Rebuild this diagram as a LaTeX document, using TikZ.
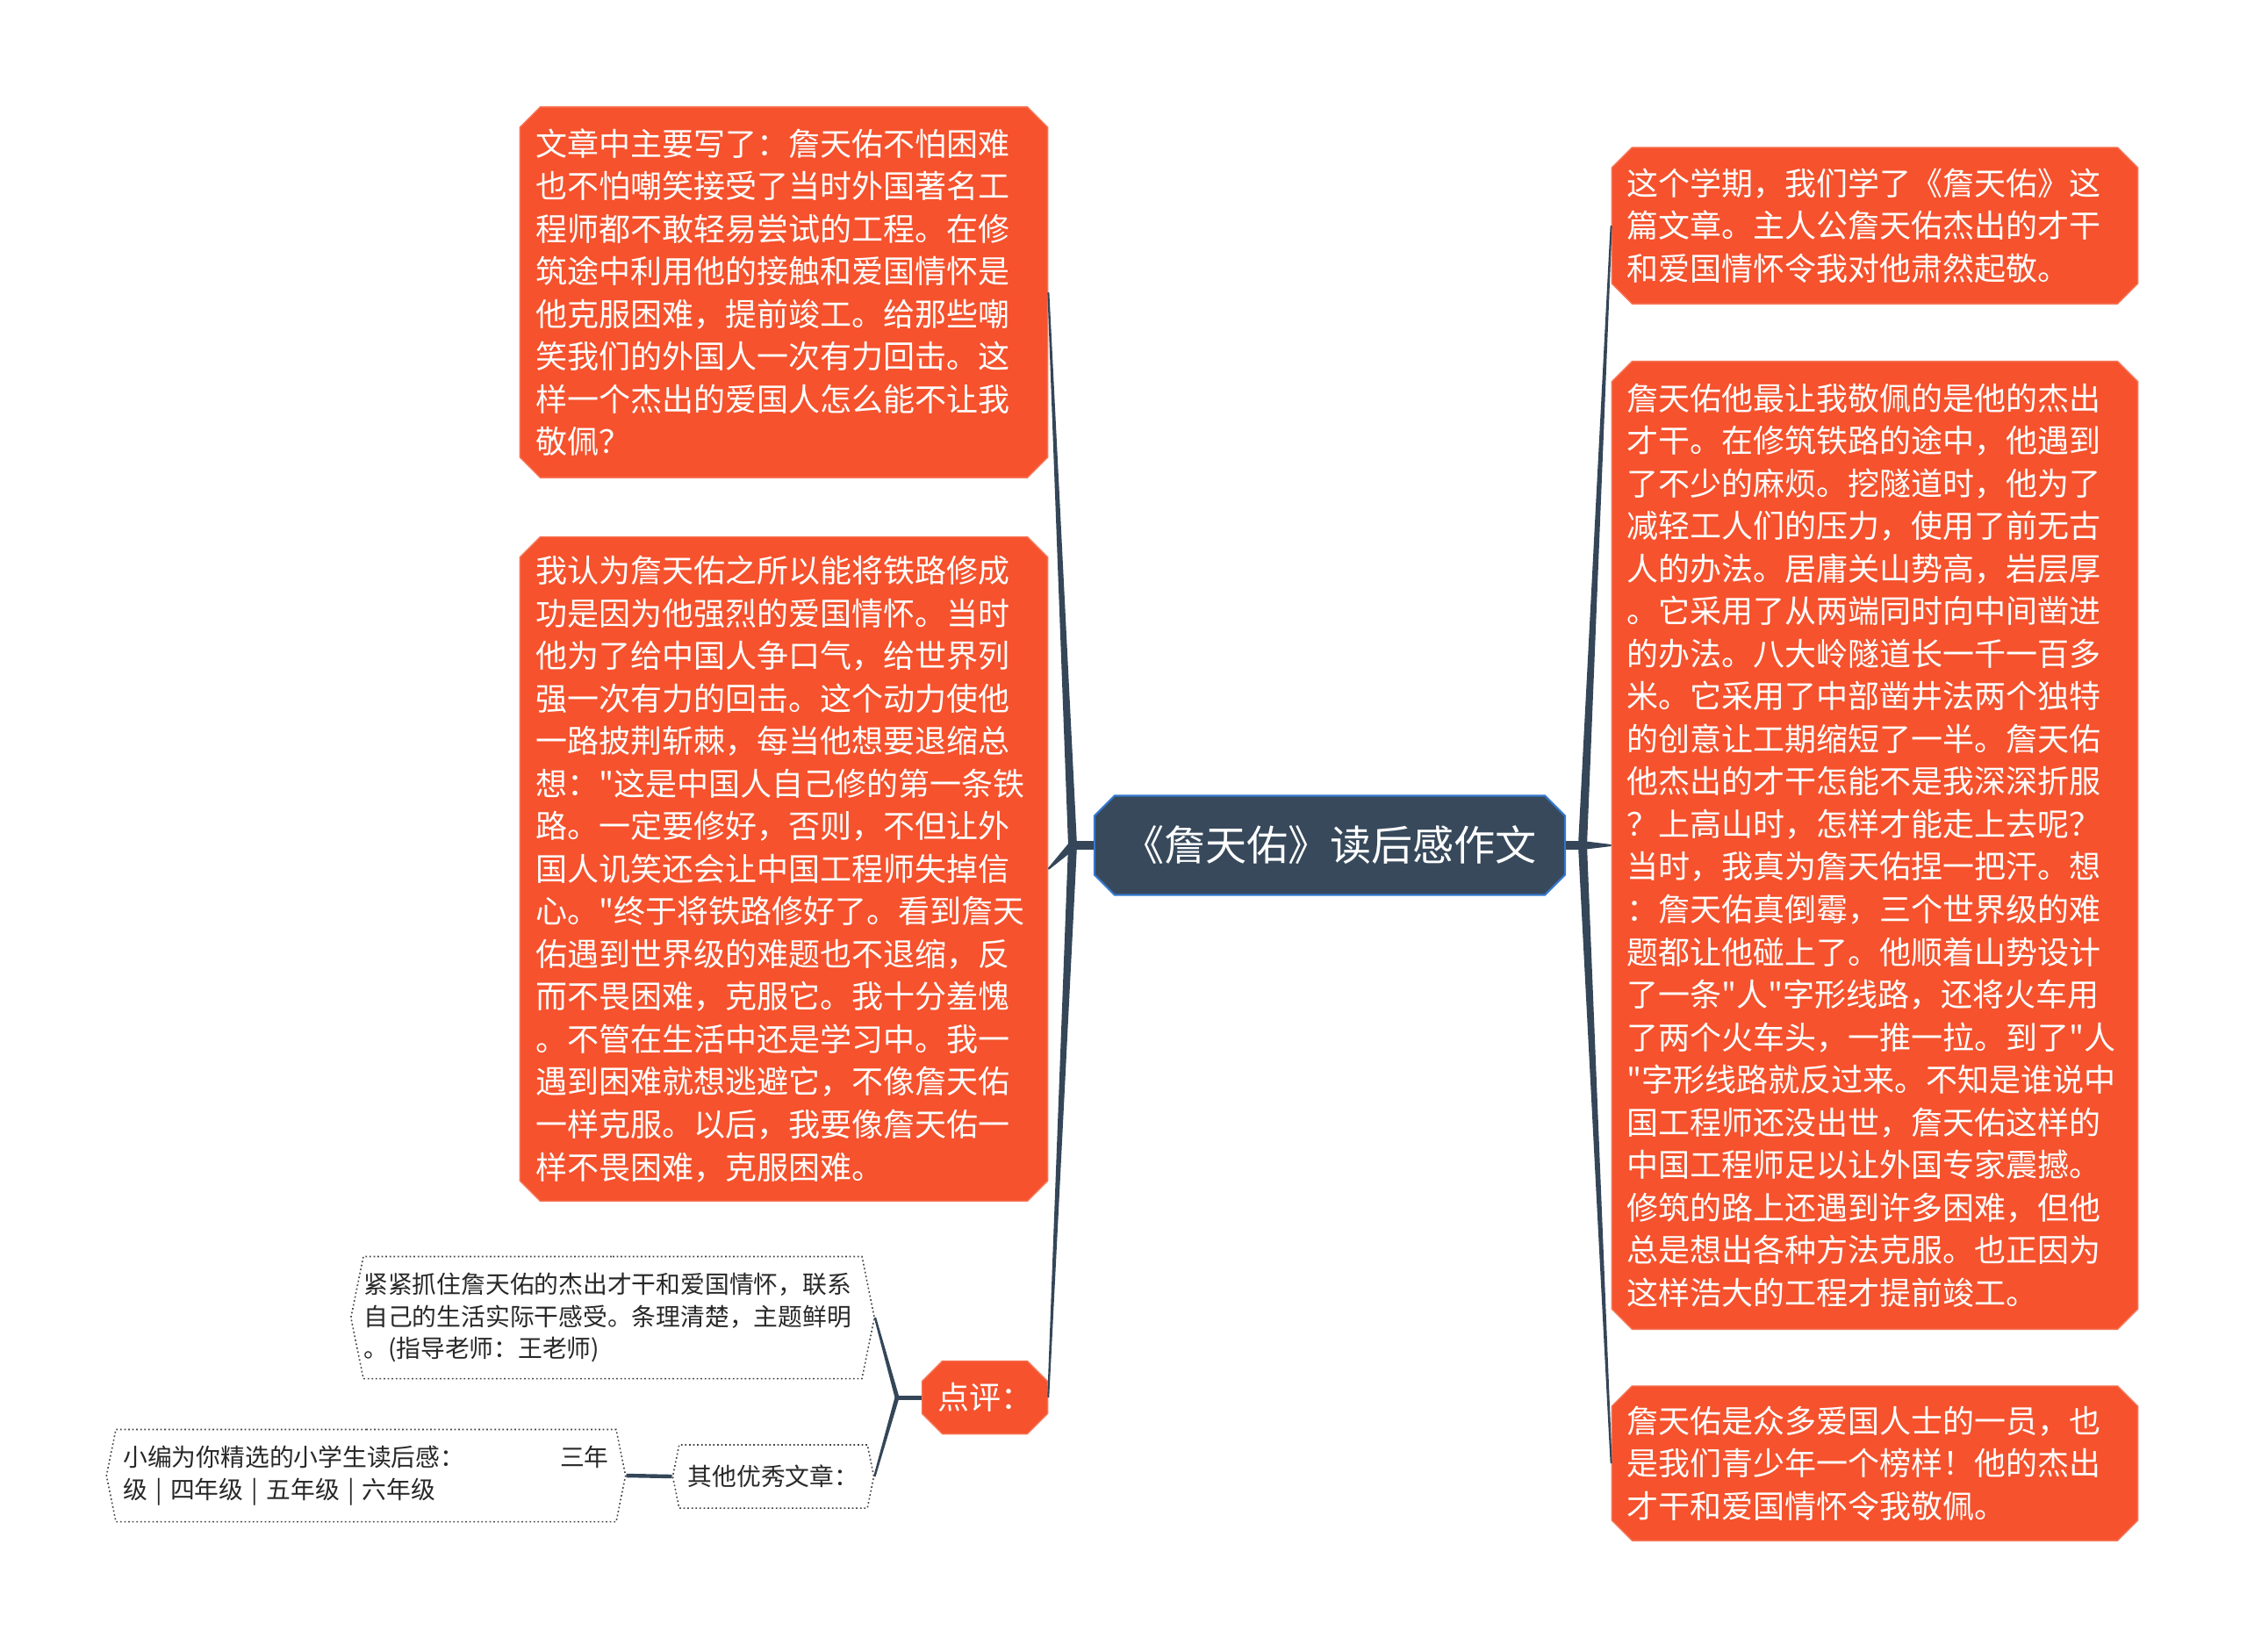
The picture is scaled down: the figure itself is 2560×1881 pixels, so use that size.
\documentclass[tikz,border=0pt]{standalone}
\usepackage{fontspec}
\newfontfamily\cjkfont{Noto Sans CJK SC}
\usepackage{tikz}
\usetikzlibrary{shapes,calc}
\usepackage{xcolor}
\definecolor{mmorange}{RGB}{245,82,45}
\definecolor{mmnavy}{RGB}{55,73,91}
\definecolor{mmblue}{RGB}{52,120,205}
\definecolor{mmline}{RGB}{52,70,88}
\definecolor{mmgray}{RGB}{70,70,70}
\definecolor{mmtext}{RGB}{40,40,40}
\newcommand{\mmbody}{\cjkfont\fontsize{10.24pt}{13.8pt}\selectfont}
\newcommand{\mmsmall}{\cjkfont\fontsize{7.9pt}{10.3pt}\selectfont}
\newcommand{\mmtitle}{\cjkfont\fontsize{13.4pt}{16pt}\selectfont}
% tapered branch: from, to, half width at start, half width at end
\newcommand{\branch}[4]{\fill[mmline] ($(#1)!#3!90:(#2)$) -- ($(#2)!#4!-90:(#1)$) -- ($(#2)!#4!90:(#1)$) -- ($(#1)!#3!-90:(#2)$) -- cycle;}
\tikzstyle{topic} = [chamfered rectangle, chamfered rectangle xsep=0.13cm, fill=mmorange, draw=mmorange!80!white, line width=0.4pt, text=white, align=left, inner xsep=0.04cm, inner ysep=0pt, font=\mmbody, text width=5.65cm]
\tikzstyle{root} = [chamfered rectangle, chamfered rectangle xsep=0.13cm, fill=mmnavy, draw=mmblue, line width=0.6pt, text=white, font=\mmtitle, minimum width=5.36cm, minimum height=1.13cm]
\tikzstyle{note} = [signal, signal to=east and west, signal pointer angle=157, draw=mmgray, dash pattern=on 0.5pt off 0.8pt, line width=0.45pt, fill=white, text=mmtext, font=\mmsmall, align=left, inner xsep=0pt, inner ysep=0pt]

\begin{document}
\begin{tikzpicture}[x=0.01cm, y=-0.01cm]
\fill[white] (0,0) rectangle (2560,1881);
\useasboundingbox (0,0) rectangle (2560,1881);

% Central topic
\node[root] (ctr) at (1515,963) {《詹天佑》读后感作文};

% Left topics
\node[topic, minimum width=6.01cm, minimum height=4.22cm] (lA) at (893,333) {文章中主要写了：詹天佑不怕困难\\也不怕嘲笑接受了当时外国著名工\\程师都不敢轻易尝试的工程。在修\\筑途中利用他的接触和爱国情怀是\\他克服困难，提前竣工。给那些嘲\\笑我们的外国人一次有力回击。这\\样一个杰出的爱国人怎么能不让我\\敬佩？};

\node[topic, minimum width=6.01cm, minimum height=7.56cm] (lB) at (893,990) {我认为詹天佑之所以能将铁路修成\\功是因为他强烈的爱国情怀。当时\\他为了给中国人争口气，给世界列\\强一次有力的回击。这个动力使他\\一路披荆斩棘，每当他想要退缩总\\想："这是中国人自己修的第一条铁\\路。一定要修好，否则，不但让外\\国人讥笑还会让中国工程师失掉信\\心。"终于将铁路修好了。看到詹天\\佑遇到世界级的难题也不退缩，反\\而不畏困难，克服它。我十分羞愧\\。不管在生活中还是学习中。我一\\遇到困难就想逃避它，不像詹天佑\\一样克服。以后，我要像詹天佑一\\样不畏困难，克服困难。};

\node[topic, text width=1.07cm, inner xsep=0.05cm, minimum width=1.43cm, minimum height=0.83cm] (dp) at (1122,1592) {点评：};

% Right topics
\node[topic, minimum width=5.99cm, minimum height=1.78cm] (rA) at (2136,257) {这个学期，我们学了《詹天佑》这\\篇文章。主人公詹天佑杰出的才干\\和爱国情怀令我对他肃然起敬。};

\node[topic, minimum width=5.99cm, minimum height=11.02cm] (rB) at (2136,963) {詹天佑他最让我敬佩的是他的杰出\\才干。在修筑铁路的途中，他遇到\\了不少的麻烦。挖隧道时，他为了\\减轻工人们的压力，使用了前无古\\人的办法。居庸关山势高，岩层厚\\。它采用了从两端同时向中间凿进\\的办法。八大岭隧道长一千一百多\\米。它采用了中部凿井法两个独特\\的创意让工期缩短了一半。詹天佑\\他杰出的才干怎能不是我深深折服\\？上高山时，怎样才能走上去呢？\\当时，我真为詹天佑捏一把汗。想\\：詹天佑真倒霉，三个世界级的难\\题都让他碰上了。他顺着山势设计\\了一条"人"字形线路，还将火车用\\了两个火车头，一推一拉。到了"人\\"字形线路就反过来。不知是谁说中\\国工程师还没出世，詹天佑这样的\\中国工程师足以让外国专家震撼。\\修筑的路上还遇到许多困难，但他\\总是想出各种方法克服。也正因为\\这样浩大的工程才提前竣工。};

\node[topic, minimum width=5.99cm, minimum height=1.76cm] (rC) at (2136,1667) {詹天佑是众多爱国人士的一员，也\\是我们青少年一个榜样！他的杰出\\才干和爱国情怀令我敬佩。};

% Comment sub-topics
\node[note, text width=5.67cm, minimum width=5.96cm, minimum height=1.39cm] (cm) at (698,1501) {紧紧抓住詹天佑的杰出才干和爱国情怀，联系\\自己的生活实际干感受。条理清楚，主题鲜明\\。(指导老师：王老师)};
\node[note, inner xsep=0.09cm, minimum width=2.29cm, minimum height=0.72cm] (ot) at (881,1682) {其他优秀文章：};
\node[note, text width=5.53cm, minimum width=5.91cm, minimum height=1.05cm] (xb) at (417,1681) {小编为你精选的小学生读后感：\hfill 三年\\级 | 四年级 | 五年级 | 六年级};

% Branches
\coordinate (jl) at (1222,963);
\coordinate (jr) at (1803,963);
\coordinate (jd) at (1022,1592);
\branch{ctr.west}{jl}{0.05cm}{0.05cm}
\branch{jl}{lA.east}{0.05cm}{0.01cm}
\branch{jl}{lB.east}{0.05cm}{0.01cm}
\branch{jl}{dp.east}{0.05cm}{0.01cm}
\branch{ctr.east}{jr}{0.05cm}{0.05cm}
\branch{jr}{rA.west}{0.05cm}{0.01cm}
\branch{jr}{rB.west}{0.05cm}{0.01cm}
\branch{jr}{rC.west}{0.05cm}{0.01cm}
\branch{dp.west}{jd}{0.025cm}{0.025cm}
\branch{jd}{cm.east}{0.025cm}{0.012cm}
\branch{jd}{ot.east}{0.025cm}{0.012cm}
\branch{ot.west}{xb.east}{0.022cm}{0.022cm}
\end{tikzpicture}
\end{document}
